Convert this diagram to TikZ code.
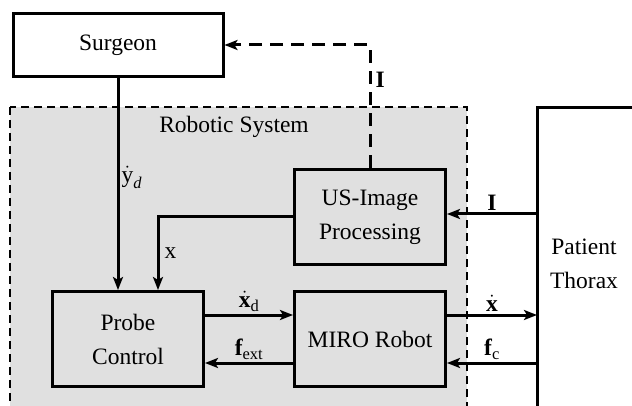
\documentclass[tikz,border=0pt]{standalone}
\usepackage{amsmath}
\usepackage{fontspec}
\setmainfont{Liberation Serif}
\usetikzlibrary{arrows.meta,positioning}
\definecolor{sysgray}{RGB}{224,224,224}

\begin{document}
\begin{tikzpicture}
[x=1pt, y=-1pt,
% STYLES
every node/.style={font=\fontsize{23.5}{34}\selectfont},
% The block style is used to draw the boxes of the loop
block/.style={rectangle, draw, line width=3pt, fill=sysgray, align=center, minimum width=151pt, minimum height=95pt, inner sep=0pt},
% The signal style is used to draw the arrows between the blocks
signal/.style={line width=3pt, -{Stealth[length=13pt,width=10pt,inset=3pt]}},
% The sig style is used to write the name of each signal
sig/.style={inner sep=2pt},
% The system style is used for the robotic system frame
system/.style={fill=sysgray, line width=1.3pt, dash pattern=on 8pt off 5pt}]

\useasboundingbox (0,0) rectangle (632,406);

% Draw frame of the robotic system
\draw[system] (10,107) rectangle (467,420);
\node (robsys) at (234,127) {Robotic System};

% Draw blocks
\node [block, fill=white, minimum width=210pt, minimum height=63pt] (surgeon) at (118,45) {Surgeon};
\node [block] (probe) at (128,339) {Probe\\Control};
\node [block] (usimage) at (370,217) {US-Image\\Processing};
\node [block] (miro) at (370,339) {MIRO Robot};

% PATIENT
\draw[line width=3pt] (537,420) -- (537,108) -- (640,108);
\coordinate (thorax) at (537,214);
\node [align=center] (patient) at (584,264) {Patient\\Thorax};

% Draw the links between blocks
\draw[signal] (surgeon.south) -- (surgeon.south |- probe.north)
    node[sig, pos=0.47, right] {$\dot{\text{y}}_{\textit{d}}$};
\draw[signal] (usimage.west) -| ([xshift=30pt]probe.north)
    node[sig, pos=0.75, right, xshift=3pt] {x};
\draw[signal, dash pattern=on 13pt off 8pt] (usimage.north) |- (surgeon.east)
    node[sig, pos=0.36, right, xshift=2pt] {\textbf{I}};
\draw[signal] ([yshift=24pt]probe.east) -- ([yshift=24pt]miro.west)
    node[sig, midway, above] {$\dot{\text{\bfseries x}}_{\text{d}}$};
\draw[signal] ([yshift=-24pt]miro.west) -- ([yshift=-24pt]probe.east)
    node[sig, midway, above] {$\text{\bfseries f}_{\text{ext}}$};
\draw[signal] (thorax) -- (usimage.east |- thorax)
    node[sig, midway, above] {\textbf{I}};
\draw[signal] ([yshift=24pt]miro.east) -- ([yshift=24pt]miro.east -| thorax)
    node[sig, midway, above] {$\dot{\text{\bfseries x}}$};
\draw[signal] ([yshift=-24pt]miro.east -| thorax) -- ([yshift=-24pt]miro.east)
    node[sig, midway, above] {$\text{\bfseries f}_{\text{c}}$};

\end{tikzpicture}
\end{document}
